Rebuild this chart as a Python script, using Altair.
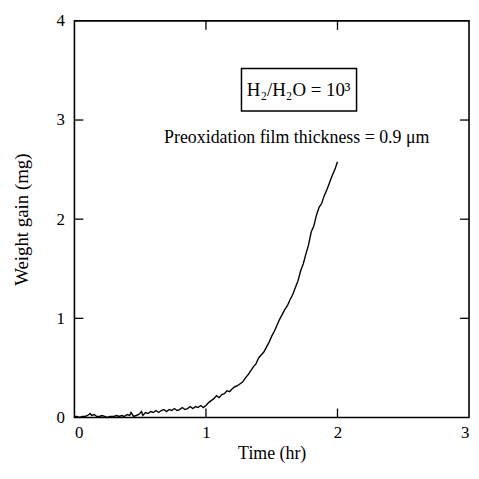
import altair as alt
import pandas as pd

time_hr = [0.00, 0.02, 0.04, 0.06, 0.08, 0.10, 0.12, 0.13, 0.15, 0.17, 0.19, 0.21,
           0.23, 0.25, 0.27, 0.30, 0.32, 0.34, 0.36, 0.38, 0.40, 0.42, 0.43, 0.45,
           0.47, 0.49, 0.51, 0.52, 0.54, 0.56, 0.58, 0.60, 0.62, 0.64, 0.66, 0.68,
           0.70, 0.72, 0.74, 0.76, 0.78, 0.80, 0.82, 0.84, 0.86, 0.88, 0.90, 0.92,
           0.94, 0.96, 0.98, 1.00, 1.02, 1.04, 1.06, 1.08, 1.10, 1.12, 1.14, 1.16,
           1.18, 1.20, 1.22, 1.24, 1.26, 1.28, 1.30, 1.32, 1.34, 1.36, 1.38, 1.40,
           1.42, 1.44, 1.46, 1.48, 1.50, 1.52, 1.54, 1.56, 1.58, 1.60, 1.62, 1.64,
           1.66, 1.68, 1.70, 1.72, 1.74, 1.76, 1.78, 1.80, 1.82, 1.84, 1.86, 1.88,
           1.90, 1.92, 1.94, 1.96, 1.98, 2.00]
weight_mg = [0.01, 0.01, 0.00, 0.01, 0.01, 0.02, 0.04, 0.02, 0.03, 0.01, 0.01, 0.02,
             0.01, 0.00, 0.01, 0.01, 0.02, 0.01, 0.02, 0.01, 0.03, 0.02, 0.05, 0.01,
             0.02, 0.03, 0.06, 0.02, 0.05, 0.04, 0.06, 0.05, 0.07, 0.05, 0.07, 0.08,
             0.06, 0.08, 0.07, 0.09, 0.07, 0.08, 0.10, 0.08, 0.09, 0.11, 0.09, 0.11,
             0.10, 0.12, 0.10, 0.12, 0.15, 0.17, 0.19, 0.22, 0.20, 0.23, 0.24, 0.27,
             0.26, 0.29, 0.31, 0.32, 0.34, 0.36, 0.40, 0.43, 0.47, 0.51, 0.54, 0.60,
             0.63, 0.66, 0.71, 0.76, 0.82, 0.87, 0.93, 0.99, 1.04, 1.09, 1.13, 1.19,
             1.24, 1.31, 1.38, 1.48, 1.55, 1.65, 1.74, 1.87, 1.93, 2.04, 2.12, 2.16,
             2.24, 2.30, 2.37, 2.44, 2.50, 2.58]

x_ticks = [1, 2]
y_ticks = [1, 2, 3]

box_label = "H₂/H₂O = 10³"
note_label = "Preoxidation film thickness = 0.9 μm"

W, H = 398, 400
FONT = "Liberation Serif"
TICK = 9

xs = alt.Scale(domain=[0, 3], nice=False)
ys = alt.Scale(domain=[0, 4], nice=False)

df = pd.DataFrame({"t": time_hr, "w": weight_mg})

line = alt.Chart(df).mark_line(color="black", strokeWidth=1.4).encode(
    x=alt.X("t:Q", scale=xs, title="Time (hr)",
            axis=alt.Axis(values=[0, 1, 2, 3], ticks=False, domain=False, grid=False,
                          labelPadding=7, titlePadding=4, format="d",
                          labelFont=FONT, titleFont=FONT, labelFontSize=17, titleFontSize=18,
                          labelColor="black", titleColor="black", titleFontWeight="normal")),
    y=alt.Y("w:Q", scale=ys, title="Weight gain (mg)",
            axis=alt.Axis(values=[0, 1, 2, 3, 4], ticks=False, domain=False, grid=False,
                          labelPadding=10, titlePadding=25, format="d",
                          labelFont=FONT, titleFont=FONT, labelFontSize=17, titleFontSize=19,
                          labelColor="black", titleColor="black", titleFontWeight="normal")),
)

xt = pd.DataFrame({"t": x_ticks})
yt = pd.DataFrame({"w": y_ticks})

bottom = alt.Chart(xt).mark_rule(color="black", strokeWidth=1.3).encode(
    x=alt.X("t:Q", scale=xs), y=alt.value(H), y2=alt.value(H - TICK))
top = alt.Chart(xt).mark_rule(color="black", strokeWidth=1.3).encode(
    x=alt.X("t:Q", scale=xs), y=alt.value(0), y2=alt.value(TICK))
left = alt.Chart(yt).mark_rule(color="black", strokeWidth=1.3).encode(
    y=alt.Y("w:Q", scale=ys), x=alt.value(0), x2=alt.value(TICK))
right = alt.Chart(yt).mark_rule(color="black", strokeWidth=1.3).encode(
    y=alt.Y("w:Q", scale=ys), x=alt.value(W), x2=alt.value(W - TICK))

box_df = pd.DataFrame({"x1": [1.27], "x2": [2.145], "y1": [3.09], "y2": [3.52]})
box = alt.Chart(box_df).mark_rect(fill=None, stroke="black", strokeWidth=1.5).encode(
    x=alt.X("x1:Q", scale=xs), x2="x2:Q", y=alt.Y("y1:Q", scale=ys), y2="y2:Q")

txt_df = pd.DataFrame({"x": [1.705, 1.69], "y": [3.30, 2.82], "label": [box_label, note_label],
                       "size": [19, 18]})
txt = alt.Chart(txt_df).mark_text(font=FONT, color="black").encode(
    x=alt.X("x:Q", scale=xs), y=alt.Y("y:Q", scale=ys), text="label:N",
    size=alt.Size("size:Q", scale=None, legend=None))

chart = alt.layer(line, bottom, top, left, right, box, txt).properties(
    width=W, height=H, background="white",
    autosize=alt.AutoSizeParams(type="none"),
    padding={"left": 67, "top": 11, "right": 2, "bottom": 52}
).configure_view(
    stroke="black", strokeWidth=1.6
)

chart.save("out.html", embed_options={"renderer": "svg", "actions": False})
